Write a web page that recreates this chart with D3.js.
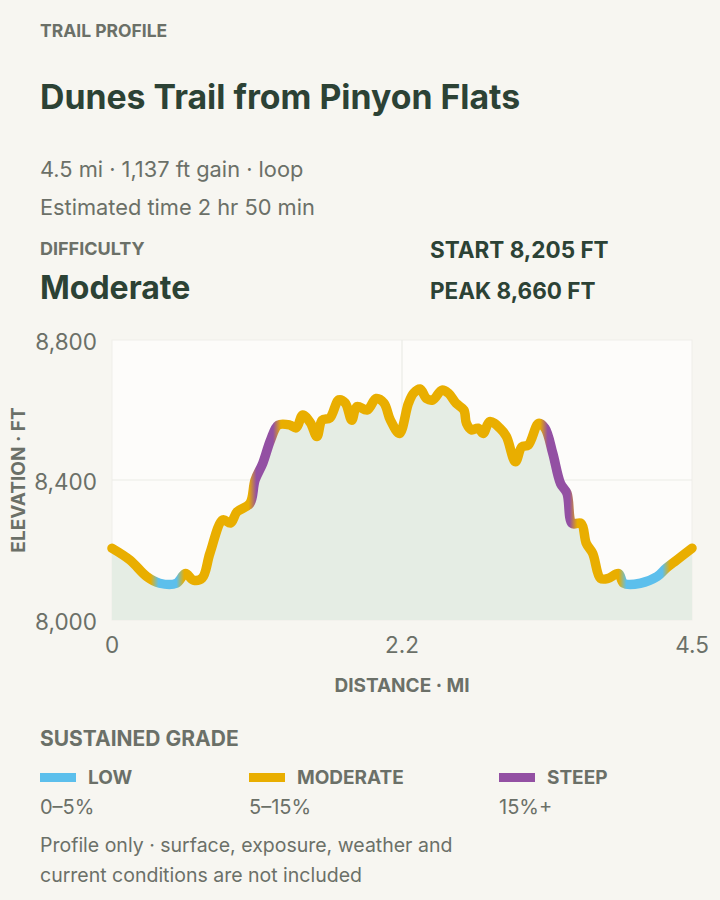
<!DOCTYPE html>
<html lang="en">
<head>
  <meta charset="UTF-8">
  <title>Trail profile</title>
  <script src="https://d3js.org/d3.v7.min.js"></script>
  <style>
    body { margin: 0; background: #f7f6f1; }
    svg text { font-family: Inter, "Noto Sans", sans-serif; }
    .kicker { font-size: 17.5px; font-weight: 700; fill: #6b7068; }
    .title { font-size: 33.8px; font-weight: 700; fill: #2c4235; }
    .meta { font-size: 21.8px; fill: #6b7068; }
    .note { font-size: 19.5px; fill: #6b7068; }
    .stat { font-size: 22.5px; font-weight: 700; fill: #2c4235; }
    .big { font-size: 32px; font-weight: 700; fill: #2c4235; }
    .tick-label { font-size: 22.5px; fill: #6b7068; }
    .axis-title { font-size: 19px; font-weight: 700; fill: #6b7068; }
    .grid { stroke: #ebebe6; stroke-width: 1.2px; }
  </style>
</head>
<body>
<svg id="chart" width="720" height="900"></svg>
<script>
  // elevation profile (miles, feet)
  const distMi = [0, 0.14, 0.27, 0.37, 0.50, 0.57, 0.63, 0.70, 0.76, 0.86, 0.92, 0.97, 1.07, 1.11,
    1.17, 1.23, 1.29, 1.38, 1.43, 1.48, 1.54, 1.59, 1.63, 1.69, 1.76, 1.81, 1.86, 1.90, 1.98, 2.05,
    2.11, 2.16, 2.23, 2.30, 2.34, 2.39, 2.44, 2.49, 2.56, 2.61, 2.67, 2.73, 2.75, 2.79, 2.84, 2.88,
    2.93, 3.01, 3.06, 3.13, 3.18, 3.23, 3.31, 3.36, 3.42, 3.48, 3.53, 3.57, 3.64, 3.68, 3.73, 3.79,
    3.85, 3.93, 3.97, 4.10, 4.23, 4.30, 4.38, 4.50];
  const elevFt = [8205, 8171, 8124, 8105, 8105, 8133, 8114, 8120, 8191, 8286, 8277, 8309, 8333, 8400,
    8448, 8514, 8557, 8557, 8549, 8586, 8563, 8524, 8571, 8577, 8629, 8620, 8571, 8610, 8600, 8633,
    8620, 8571, 8533, 8619, 8648, 8660, 8633, 8629, 8657, 8648, 8619, 8600, 8562, 8543, 8548, 8533,
    8567, 8548, 8524, 8452, 8495, 8500, 8562, 8548, 8476, 8390, 8362, 8276, 8276, 8219, 8190, 8119,
    8119, 8133, 8105, 8105, 8124, 8148, 8171, 8205];

  // where the sustained grade class changes (mi) and the class on each stretch
  const gradeBreaks = [0.33, 0.53, 1.09, 1.28, 3.35, 3.58, 3.96, 4.30];
  const gradeClasses = ["moderate", "low", "moderate", "steep", "moderate", "steep", "moderate", "low", "moderate"];

  const legendKeys = ["low", "moderate", "steep"];
  const legendNames = ["LOW", "MODERATE", "STEEP"];
  const legendRanges = ["0–5%", "5–15%", "15%+"];
  const gradeColors = { low: "#5cbfec", moderate: "#e9ae00", steep: "#9350a3" };

  const xTicks = [0, 2.25, 4.5];
  const xTickLabels = ["0", "2.2", "4.5"];
  const yTicks = [8000, 8400, 8800];

  const svg = d3.select("#chart");
  const plot = { left: 112, right: 692, top: 340, bottom: 620 };

  // header text
  svg.append("text").attr("class", "kicker").attr("x", 40).attr("y", 37).text("TRAIL PROFILE");
  svg.append("text").attr("class", "title").attr("x", 40).attr("y", 109).text("Dunes Trail from Pinyon Flats");
  svg.append("text").attr("class", "meta").attr("x", 40).attr("y", 177).text("4.5 mi · 1,137 ft gain · loop");
  svg.append("text").attr("class", "meta").attr("x", 40).attr("y", 215).text("Estimated time 2 hr 50 min");
  svg.append("text").attr("class", "kicker").attr("x", 40).attr("y", 254.5).style("font-size", "18px").text("DIFFICULTY");
  svg.append("text").attr("class", "big").attr("x", 40).attr("y", 298.5).text("Moderate");
  svg.append("text").attr("class", "stat").attr("x", 430).attr("y", 258).text("START 8,205 FT");
  svg.append("text").attr("class", "stat").attr("x", 430).attr("y", 299).text("PEAK 8,660 FT");

  const x = d3.scaleLinear().domain([0, 4.5]).range([plot.left, plot.right]);
  const y = d3.scaleLinear().domain([8000, 8800]).range([plot.bottom, plot.top]);

  svg.append("rect")
     .attr("x", plot.left).attr("y", plot.top)
     .attr("width", plot.right - plot.left).attr("height", plot.bottom - plot.top)
     .attr("fill", "#fdfcfa").attr("stroke", "#efeeea");

  // gridlines
  svg.selectAll("line.hgrid").data(yTicks.slice(1, -1)).join("line")
     .attr("class", "grid")
     .attr("x1", plot.left).attr("x2", plot.right)
     .attr("y1", d => y(d)).attr("y2", d => y(d));
  svg.selectAll("line.vgrid").data(xTicks.slice(1, -1)).join("line")
     .attr("class", "grid")
     .attr("y1", plot.top).attr("y2", plot.bottom)
     .attr("x1", d => x(d)).attr("x2", d => x(d));

  const profile = distMi.map((d, i) => ({ d: d, e: elevFt[i] }));

  const area = d3.area().x(p => x(p.d)).y0(y(8000)).y1(p => y(p.e)).curve(d3.curveCatmullRom);
  svg.append("path").datum(profile).attr("d", area).attr("fill", "#e5ede4");

  // gradient along distance for the grade colours
  const grad = svg.append("defs").append("linearGradient")
     .attr("id", "gradeGrad").attr("gradientUnits", "userSpaceOnUse")
     .attr("x1", x(0)).attr("x2", x(4.5)).attr("y1", 0).attr("y2", 0);
  const blend = 0.03;
  const stops = [{ o: 0, c: gradeColors[gradeClasses[0]] }];
  gradeBreaks.forEach((b, i) => {
    stops.push({ o: (b - blend) / 4.5, c: gradeColors[gradeClasses[i]] });
    stops.push({ o: (b + blend) / 4.5, c: gradeColors[gradeClasses[i + 1]] });
  });
  stops.push({ o: 1, c: gradeColors[gradeClasses[gradeClasses.length - 1]] });
  grad.selectAll("stop").data(stops).join("stop")
     .attr("offset", s => s.o).attr("stop-color", s => s.c);

  const line = d3.line().x(p => x(p.d)).y(p => y(p.e)).curve(d3.curveCatmullRom);
  svg.append("path").datum(profile).attr("d", line)
     .attr("fill", "none").attr("stroke", "url(#gradeGrad)")
     .attr("stroke-width", 9.5).attr("stroke-linecap", "round").attr("stroke-linejoin", "round");

  // axes labels
  svg.selectAll("text.ytick").data(yTicks).join("text")
     .attr("class", "tick-label").attr("text-anchor", "end")
     .attr("x", 97).attr("y", d => y(d) + 9.5)
     .text(d => d3.format(",")(d));
  svg.selectAll("text.xtick").data(xTicks).join("text")
     .attr("class", "tick-label").attr("text-anchor", "middle")
     .attr("x", d => x(d)).attr("y", 653)
     .text((d, i) => xTickLabels[i]);

  svg.append("text").attr("class", "axis-title").attr("text-anchor", "middle")
     .attr("transform", "translate(25," + y(8400) + ") rotate(-90)")
     .text("ELEVATION · FT");
  svg.append("text").attr("class", "axis-title").attr("text-anchor", "middle")
     .attr("x", x(2.25)).attr("y", 692).text("DISTANCE · MI");

  // legend
  svg.append("text").attr("class", "kicker").attr("x", 40).attr("y", 745.5).style("font-size", "21px").text("SUSTAINED GRADE");
  const legendX = [40, 249, 499];
  const items = svg.selectAll("g.leg").data(legendKeys).join("g")
     .attr("transform", (d, i) => "translate(" + legendX[i] + ",0)");
  items.append("rect").attr("x", 0).attr("y", 773).attr("width", 36).attr("height", 9)
     .attr("fill", d => gradeColors[d]);
  items.append("text").attr("class", "kicker").attr("x", 48).attr("y", 784).style("font-size", "19px")
     .text((d, i) => legendNames[i]);
  items.append("text").attr("class", "meta").attr("x", 0).attr("y", 813.5).style("font-size", "20px")
     .text((d, i) => legendRanges[i]);

  svg.append("text").attr("class", "note").attr("x", 40).attr("y", 852).text("Profile only · surface, exposure, weather and");
  svg.append("text").attr("class", "note").attr("x", 40).attr("y", 882).text("current conditions are not included");
</script>
</body>
</html>
